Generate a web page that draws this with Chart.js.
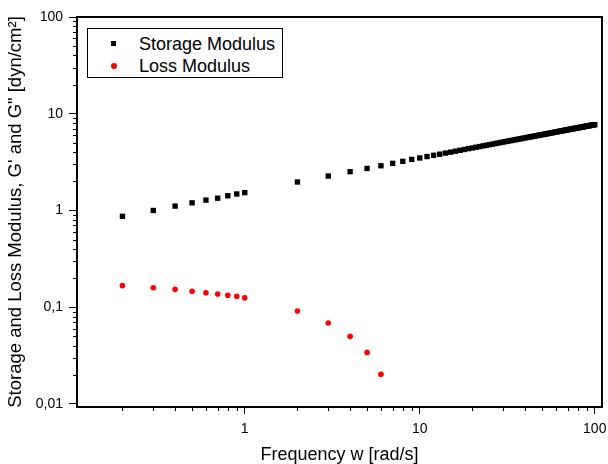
<!DOCTYPE html>
<html>
<head>
<meta charset="utf-8">
<script src="https://cdn.jsdelivr.net/npm/chart.js@4"></script>
<style>
  body { margin: 0; background: #fff; }
  #wrap { position: relative; width: 608px; height: 464px; }
  #legend {
    position: absolute; left: 87px; top: 28px; width: 196px; height: 50px;
    box-sizing: border-box; border: 1px solid #000; background: #fff;
    font-family: "Liberation Sans", Arial, sans-serif; font-size: 18px; color: #000;
  }
  .row { position: absolute; left: 0; height: 22px; line-height: 22px; width: 100%; }
  .mark { position: absolute; left: 23px; top: 8px; width: 5px; height: 5px; }
  .row span.txt { position: absolute; left: 51px; top: 0; white-space: nowrap; }
</style>
</head>
<body>
<div id="wrap">
  <canvas id="modChart" width="608" height="464"></canvas>
  <div id="legend"></div>
</div>
<script>
// 周波数 (rad/s)
const storageFreq = [0.2, 0.3, 0.4, 0.5, 0.6, 0.7, 0.8, 0.9, 1,
  2, 3, 4, 5, 6, 7, 8, 9, 10,
  11, 12, 13, 14, 15, 16, 17, 18, 19, 20,
  21, 22, 23, 24, 25, 26, 27, 28, 29, 30,
  31, 32, 33, 34, 35, 36, 37, 38, 39, 40,
  41, 42, 43, 44, 45, 46, 47, 48, 49, 50,
  51, 52, 53, 54, 55, 56, 57, 58, 59, 60,
  61, 62, 63, 64, 65, 66, 67, 68, 69, 70,
  71, 72, 73, 74, 75, 76, 77, 78, 79, 80,
  81, 82, 83, 84, 85, 86, 87, 88, 89, 90,
  91, 92, 93, 94, 95, 96, 97, 98, 99, 100];

// 貯蔵弾性率 G' (dyn/cm²)
const storageMod = [0.87, 1.0, 1.11, 1.2, 1.28, 1.34, 1.42, 1.48, 1.53,
  1.97, 2.27, 2.52, 2.72, 2.9, 3.07, 3.22, 3.37, 3.49,
  3.61, 3.72, 3.82, 3.92, 4.01, 4.1, 4.19, 4.27, 4.36, 4.43,
  4.51, 4.58, 4.65, 4.72, 4.79, 4.85, 4.92, 4.98, 5.04, 5.1,
  5.16, 5.21, 5.27, 5.32, 5.38, 5.43, 5.48, 5.53, 5.58, 5.63,
  5.68, 5.73, 5.77, 5.82, 5.86, 5.91, 5.95, 6.0, 6.04, 6.08,
  6.12, 6.16, 6.2, 6.24, 6.28, 6.32, 6.36, 6.4, 6.44, 6.48,
  6.51, 6.55, 6.59, 6.62, 6.66, 6.69, 6.73, 6.76, 6.8, 6.83,
  6.86, 6.9, 6.93, 6.96, 6.99, 7.03, 7.06, 7.09, 7.12, 7.15,
  7.18, 7.21, 7.24, 7.27, 7.3, 7.33, 7.36, 7.39, 7.42, 7.45,
  7.48, 7.51, 7.53, 7.56, 7.59, 7.62, 7.64, 7.67, 7.7, 7.72];

// 損失弾性率 G"
const lossFreq = [0.2, 0.3, 0.4, 0.5, 0.6, 0.7, 0.8, 0.9, 1, 2, 3, 4, 5, 6];
const lossMod = [0.167, 0.159, 0.153, 0.146, 0.141, 0.137, 0.133, 0.13, 0.125,
  0.0914, 0.0686, 0.0499, 0.0341, 0.0203];

// 目盛り
const xTickValues = [1, 10, 100];
const xTickLabels = ["1", "10", "100"];
const yTickValues = [0.01, 0.1, 1, 10, 100];
const yTickLabels = ["0,01", "0,1", "1", "10", "100"];

const seriesNames = ["Storage Modulus", "Loss Modulus"];

// 補助目盛り (2〜9 × 10^n)
function minorTicks(fromExp, toExp) {
  const list = [];
  for (let e = fromExp; e <= toExp; e++) {
    for (let m = 2; m <= 9; m++) list.push(m * Math.pow(10, e));
  }
  return list;
}
const xMinor = minorTicks(-1, 1);
const yMinor = minorTicks(-2, 1);

const FONT = "'Liberation Sans', Arial, sans-serif";

// 枠と補助目盛りを描く
const framePlugin = {
  id: "framePlugin",
  afterDraw(chart) {
    const { ctx, chartArea: a, scales } = chart;
    ctx.save();
    ctx.strokeStyle = "#000";
    ctx.lineWidth = 1;
    ctx.beginPath();
    xMinor.forEach((v) => {
      const px = Math.round(scales.x.getPixelForValue(v)) + 0.5;
      if (px < a.left || px > a.right) return;
      ctx.moveTo(px, a.bottom);
      ctx.lineTo(px, a.bottom + 4);
    });
    yMinor.forEach((v) => {
      const py = Math.round(scales.y.getPixelForValue(v)) + 0.5;
      if (py < a.top || py > a.bottom) return;
      ctx.moveTo(a.left, py);
      ctx.lineTo(a.left - 4, py);
    });
    ctx.stroke();
    ctx.lineWidth = 2;
    ctx.strokeRect(a.left, a.top, a.right - a.left, a.bottom - a.top);
    ctx.restore();
  },
};

const ctx = document.getElementById("modChart").getContext("2d");
const chart = new Chart(ctx, {
  type: "scatter",
  data: {
    datasets: [
      {
        label: seriesNames[0],
        data: storageFreq.map((x, i) => ({ x: x, y: storageMod[i] })),
        pointStyle: "rect",
        pointRadius: 3.8,
        borderWidth: 0,
        backgroundColor: "#000",
        borderColor: "#000",
      },
      {
        label: seriesNames[1],
        data: lossFreq.map((x, i) => ({ x: x, y: lossMod[i] })),
        pointStyle: "circle",
        pointRadius: 2.8,
        borderWidth: 0,
        backgroundColor: "#ff0000",
        borderColor: "#ff0000",
      },
    ],
  },
  options: {
    responsive: false,
    animation: false,
    events: [],
    layout: { padding: { top: 17, right: 6, left: 0, bottom: 0 } },
    plugins: { legend: { display: false }, tooltip: { enabled: false } },
    scales: {
      x: {
        type: "logarithmic",
        min: 0.11,
        max: 110,
        afterBuildTicks: (s) => { s.ticks = xTickValues.map((v) => ({ value: v })); },
        afterFit: (s) => { s.height = 57; s.paddingLeft = 0; s.paddingRight = 0; },
        ticks: {
          autoSkip: false,
          maxRotation: 0,
          padding: 7,
          color: "#000",
          font: { family: FONT, size: 14 },
          callback: (v, i) => xTickLabels[i],
        },
        grid: { drawOnChartArea: false, drawTicks: true, tickLength: 7, color: "#000", tickColor: "#000" },
        border: { display: false },
        title: {
          display: true,
          text: "Frequency w [rad/s]",
          color: "#000",
          font: { family: FONT, size: 18, lineHeight: 1 },
          padding: { top: 0, bottom: 0 },
        },
      },
      y: {
        type: "logarithmic",
        min: 0.0093,
        max: 100,
        afterBuildTicks: (s) => { s.ticks = yTickValues.map((v) => ({ value: v })); },
        afterFit: (s) => { s.width = 77; s.paddingTop = 0; s.paddingBottom = 0; },
        ticks: {
          autoSkip: false,
          padding: 6,
          color: "#000",
          font: { family: FONT, size: 14 },
          callback: (v, i) => yTickLabels[i],
        },
        grid: { drawOnChartArea: false, drawTicks: true, tickLength: 8, color: "#000", tickColor: "#000" },
        border: { display: false },
        title: {
          display: true,
          text: "Storage and Loss Modulus, G' and G\" [dyn/cm\u00b2]",
          color: "#000",
          font: { family: FONT, size: 18.5 },
          padding: { top: 5, bottom: 0 },
        },
      },
    },
  },
  plugins: [framePlugin],
});

// 凡例 (枠付き)
const legend = document.getElementById("legend");
chart.data.datasets.forEach((ds, i) => {
  const row = document.createElement("div");
  row.className = "row";
  row.style.top = (4 + i * 22) + "px";
  const mark = document.createElement("div");
  mark.className = "mark";
  mark.style.background = ds.backgroundColor;
  if (ds.pointStyle === "circle") {
    mark.style.borderRadius = "50%";
    mark.style.width = "6px";
    mark.style.height = "6px";
  }
  row.appendChild(mark);
  const txt = document.createElement("span");
  txt.className = "txt";
  txt.textContent = ds.label;
  row.appendChild(txt);
  legend.appendChild(row);
});
</script>
</body>
</html>
